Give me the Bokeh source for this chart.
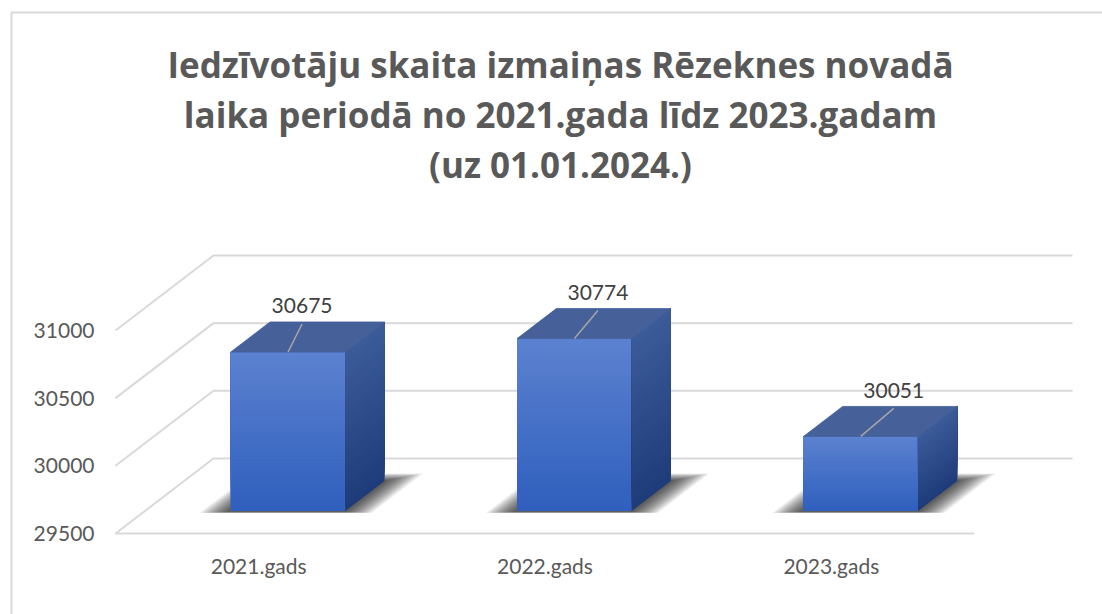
from bokeh.plotting import figure
from bokeh.models import Range1d
from bokeh.embed import file_html
from bokeh.resources import INLINE
from bokeh.core.properties import value

# ---------------- data ----------------
title_lines = [
    "Iedzīvotāju skaita izmaiņas Rēzeknes novadā",
    "laika periodā no 2021.gada līdz 2023.gadam",
    "(uz 01.01.2024.)",
]
categories = ["2021.gads", "2022.gads", "2023.gads"]
population = [30675, 30774, 30051]
y_ticks = [29500, 30000, 30500, 31000]
y_base = 29500

# ---------------- layout helpers (pixel geometry of the 3D box) ----------------
W, H = 1102, 614
PX_LEFT = 115.0        # front-left floor corner
PX_CAT = 286.33        # pixels per category
PX_BASE = 533.0        # pixel row of base value on the front plane
PX_PER_UNIT = 67.67 / 500.0
DEPTH_PX = (98.0, 75.0)

def X(px):
    return (px - PX_LEFT) / PX_CAT

def Y(py):
    return y_base + (PX_BASE - py) / PX_PER_UNIT

DX = DEPTH_PX[0] / PX_CAT          # full depth, category units
DV = DEPTH_PX[1] / PX_PER_UNIT     # full depth, value units
n = len(categories)
BAR_L, BAR_R = 0.3, 0.7            # bar extent inside a category
D_F, D_B = 0.3, 0.7                # bar front/back depth

def mix(c1, c2, t):
    a = [int(c1[i:i + 2], 16) for i in (1, 3, 5)]
    b = [int(c2[i:i + 2], 16) for i in (1, 3, 5)]
    return "#%02x%02x%02x" % tuple(round(a[k] + (b[k] - a[k]) * t) for k in range(3))

p = figure(width=W, height=H, x_range=Range1d(X(0), X(W)), y_range=Range1d(Y(H), Y(0)),
           output_backend="svg", toolbar_location=None, min_border=0,
           min_border_left=0, min_border_right=0, min_border_top=0, min_border_bottom=0,
           x_axis_location=None, y_axis_location=None, outline_line_color=None,
           background_fill_color="white", border_fill_color="white")
p.xgrid.visible = False
p.ygrid.visible = False

GRID = "#d9d9d9"
# chart border
p.line([X(11), X(11), X(W + 10)], [Y(H + 10), Y(12), Y(12)], line_color=GRID, line_width=2)

# gridlines: front-left -> back-left -> back-right
p.multi_line([[0, DX, n + DX] for t in y_ticks],
             [[t, t + DV, t + DV] for t in y_ticks], line_color=GRID, line_width=2)
# floor front edge
p.line([0, n], [y_base, y_base], line_color=GRID, line_width=2)

# tick labels
p.text(x=[X(94)] * len(y_ticks), y=y_ticks, text=[str(t) for t in y_ticks],
       text_align="right", text_baseline="middle", text_font=value("Lato"),
       text_font_size="21px", text_color="#595959")

# category labels
p.text(x=[i + 0.5 for i in range(n)], y=[Y(565)] * n, text=categories,
       text_align="center", text_baseline="middle", text_font=value("Lato"),
       text_font_size="21px", text_color="#595959")

# title
p.text(x=[X(560)] * 3, y=[Y(64), Y(114), Y(164)], text=title_lines,
       text_align="center", text_baseline="alphabetic", text_font=value("Open Sans"),
       text_font_style="bold", text_font_size="35px", text_color="#595959")

# soft shadows on the floor
layers = [0.10 - 0.007 * k for k in range(14)]
for i, v in enumerate(population):
    for e in layers:
        ef, eb = 0.015 + e * 0.1, e * 1.0
        xs = [i + BAR_L - e + (D_F - ef) * DX, i + BAR_R + e + (D_F - ef) * DX,
              i + BAR_R + e + (D_B + eb) * DX, i + BAR_L - e + (D_B + eb) * DX]
        ys = [y_base + (D_F - ef) * DV, y_base + (D_F - ef) * DV,
              y_base + (D_B + eb) * DV, y_base + (D_B + eb) * DV]
        p.patch(xs, ys, fill_color="black", fill_alpha=0.065, line_color=None)

# bars (gradient built from overlapping layers, bottom colour first)
N = 40
FRONT_TOP, FRONT_BOT = "#5c82d0", "#2f5fbd"
SIDE_TOP, SIDE_BOT = "#3c5b99", "#1e3c79"
TOP_C = "#46609a"
for i, v in enumerate(population):
    top_f = v + D_F * DV
    # front face
    lefts, rights, bottoms, tops, cols = [], [], [], [], []
    for k in range(N):
        lo = y_base + (v - y_base) * k / N
        lefts.append(i + BAR_L + D_F * DX)
        rights.append(i + BAR_R + D_F * DX)
        bottoms.append(lo + D_F * DV)
        tops.append(top_f)
        cols.append(mix(FRONT_BOT, FRONT_TOP, (k + 0.5) / N))
    p.quad(left=lefts, right=rights, bottom=bottoms, top=tops,
           fill_color=cols, line_color=None)
    # side face
    xs_l, ys_l, cols = [], [], []
    xa, xb = i + BAR_R + D_F * DX, i + BAR_R + D_B * DX
    for k in range(N):
        lo = y_base + (v - y_base) * k / N
        xs_l.append([xa, xb, xb, xa])
        ys_l.append([lo + D_F * DV, lo + D_B * DV, v + D_B * DV, v + D_F * DV])
        cols.append(mix(SIDE_BOT, SIDE_TOP, (k + 0.5) / N))
    p.patches(xs_l, ys_l, fill_color=cols, line_color=None)
    # top face
    p.patch([i + BAR_L + D_F * DX, i + BAR_R + D_F * DX, i + BAR_R + D_B * DX, i + BAR_L + D_B * DX],
            [v + D_F * DV, v + D_F * DV, v + D_B * DV, v + D_B * DV],
            fill_color=TOP_C, line_color=TOP_C, line_width=0.8)

# data labels with leader lines
lx0 = [i + 0.5 + D_F * DX for i in range(n)]
ly0 = [v + D_F * DV for v in population]
lx1 = [lx0[i] + (14 + 9.5 * i) / PX_CAT for i in range(n)]
ly1 = [y + 28 / PX_PER_UNIT for y in ly0]
p.segment(x0=lx0, y0=ly0, x1=lx1, y1=ly1, line_color="#a6a6a6", line_width=1.5)
p.text(x=lx1, y=[y + 18 / PX_PER_UNIT for y in ly1], text=[str(v) for v in population],
       text_align="center", text_baseline="middle", text_font=value("Lato"),
       text_font_size="21px", text_color="#404040")

open("out.html", "w").write(file_html(p, INLINE))
